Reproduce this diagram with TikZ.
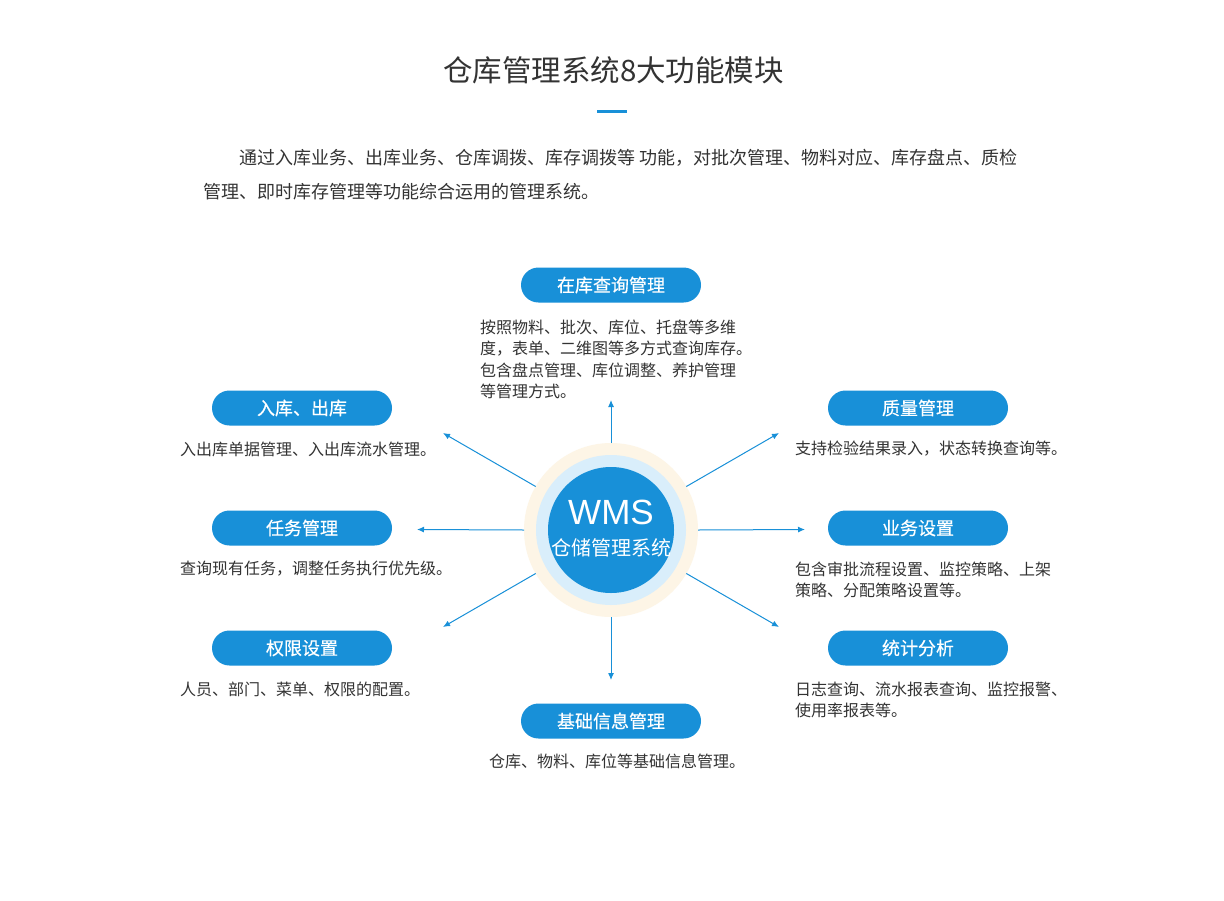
\documentclass[tikz,border=0pt]{standalone}
\usepackage{fontspec}
\setmainfont{Noto Sans CJK SC}
\newfontfamily\wmsfont{Liberation Sans}
\newfontfamily\pillfont[FakeBold=0.4]{Noto Sans CJK SC}
\usetikzlibrary{arrows.meta}
\definecolor{wblue}{HTML}{1890D8}
\definecolor{wlight}{HTML}{D9EEFB}
\definecolor{wcream}{HTML}{FDF5E6}
\definecolor{wtext}{HTML}{333333}
\tikzset{
  pill/.style={rounded corners=17.5pt, fill=wblue, minimum width=180pt, minimum height=35pt,
    inner sep=0pt, text=white, font=\pillfont\fontsize{18}{18}\selectfont},
  desc/.style={anchor=west, inner sep=0pt, text=wtext, font=\fontsize{16}{16}\selectfont},
  para/.style={anchor=west, inner sep=0pt, text=wtext, font=\fontsize{18}{18}\selectfont},
  ray/.style={draw=wblue, line width=1pt, -{Latex[length=7pt,width=6pt]}}
}
\begin{document}
\begin{tikzpicture}[x=1pt,y=-1pt]
\useasboundingbox[fill=white] (0,0) rectangle (1224,900);

% title
\node[text=wtext, inner sep=0pt, font=\fontsize{29.5}{29.5}\selectfont] (title) at (613.5,70.5) {仓库管理系统8大功能模块};
\coordinate (ulA) at (597,111.5);
\coordinate (ulB) at (627,111.5);
\draw[wblue, line width=3pt] (ulA) -- (ulB);

% paragraph
\node[para] (par1) at (239,158) {通过入库业务、出库业务、仓库调拨、库存调拨等 功能，对批次管理、物料对应、库存盘点、质检};
\node[para] (par2) at (203,192) {管理、即时库存管理等功能综合运用的管理系统。};

% centre
\node[circle, fill=wcream, minimum size=174pt, inner sep=0pt, outer sep=0pt] (c) at (611,530) {};
\node[circle, fill=wlight, minimum size=150pt, inner sep=0pt, outer sep=0pt] (cm) at (611,530) {};
\node[circle, fill=wblue, minimum size=126pt, inner sep=0pt, outer sep=0pt] (ci) at (611,530) {};
\node[text=white, inner sep=0pt, font=\wmsfont\fontsize{35}{35}\selectfont] (wms) at (611,512) {WMS};
\node[text=white, inner sep=0pt, font=\fontsize{20}{20}\selectfont] (wmscn) at (611,548) {仓储管理系统};

% pills
\node[pill] (pTop) at (611,285) {在库查询管理};
\node[pill] (pL1) at (302,408) {入库、出库};
\node[pill] (pL2) at (302,528) {任务管理};
\node[pill] (pL3) at (302,648) {权限设置};
\node[pill] (pR1) at (918,408) {质量管理};
\node[pill] (pR2) at (918,528) {业务设置};
\node[pill] (pR3) at (918,648) {统计分析};
\node[pill] (pBot) at (611,721) {基础信息管理};

% descriptions
\node[desc] (dT1) at (480,327) {按照物料、批次、库位、托盘等多维};
\node[desc] (dT2) at (480,348.5) {度，表单、二维图等多方式查询库存。};
\node[desc] (dT3) at (480,370) {包含盘点管理、库位调整、养护管理};
\node[desc] (dT4) at (480,391.5) {等管理方式。};
\node[desc] (dL1) at (180,449) {入出库单据管理、入出库流水管理。};
\node[desc] (dL2) at (180,569) {查询现有任务，调整任务执行优先级。};
\node[desc] (dL3) at (180,689) {人员、部门、菜单、权限的配置。};
\node[desc] (dR1) at (795,449) {支持检验结果录入，状态转换查询等。};
\node[desc] (dR2a) at (795,569) {包含审批流程设置、监控策略、上架};
\node[desc] (dR2b) at (795,590.5) {策略、分配策略设置等。};
\node[desc] (dR3a) at (795,689) {日志查询、流水报表查询、监控报警、};
\node[desc] (dR3b) at (795,710.5) {使用率报表等。};
\node[desc] (dB) at (489,761) {仓库、物料、库位等基础信息管理。};

% rays
\coordinate (eN) at (611,400);
\coordinate (eS) at (611,680);
\coordinate (eW) at (417,529.5);
\coordinate (eE) at (805,529.5);
\coordinate (eNW) at (443,433);
\coordinate (eNE) at (779,433);
\coordinate (eSW) at (443,627);
\coordinate (eSE) at (779,627);
\draw[ray] (c.90) -- (eN);
\draw[ray] (c.270) -- (eS);
\draw[ray] (c.180) -- (eW);
\draw[ray] (c.0) -- (eE);
\draw[ray] (c.150) -- (eNW);
\draw[ray] (c.30) -- (eNE);
\draw[ray] (c.210) -- (eSW);
\draw[ray] (c.330) -- (eSE);
\end{tikzpicture}
\end{document}
